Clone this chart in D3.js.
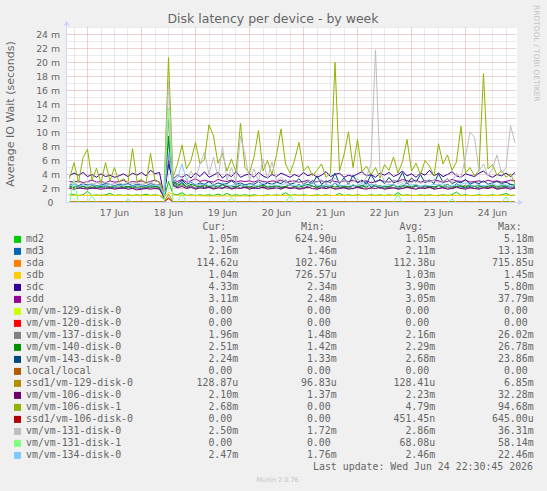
<!DOCTYPE html>
<html>
<head>
<meta charset="utf-8">
<script src="https://cdn.jsdelivr.net/npm/d3@7"></script>
<style>
  body { margin: 0; background: #f0f0f0; }
  svg { display: block; }
  text { font-family: "DejaVu Sans", sans-serif; fill: #666666; }
  .mono { font-family: "DejaVu Sans Mono", monospace; font-size: 9.9px; white-space: pre; }
</style>
</head>
<body>
<script>
// Legend names and munin colours, in drawing order
var names = ["md2", "md3", "sda", "sdb", "sdc", "sdd", "vm/vm-129-disk-0", "vm/vm-120-disk-0",
    "vm/vm-137-disk-0", "vm/vm-140-disk-0", "vm/vm-143-disk-0", "local/local", "ssd1/vm-129-disk-0",
    "vm/vm-106-disk-0", "vm/vm-106-disk-1", "ssd1/vm-106-disk-0", "vm/vm-131-disk-0", "vm/vm-131-disk-1",
    "vm/vm-134-disk-0"];
var colors = ["#00cc00", "#0066b3", "#ff8000", "#ffcc00", "#330099", "#990099", "#ccff00", "#ff0000",
    "#808080", "#008f00", "#00487d", "#b35a00", "#b38f00", "#6b006b", "#8fb300", "#b30000", "#bebebe",
    "#80ff80", "#80c9ff"];

// Legend columns
var cur = ["1.05m", "2.16m", "114.62u", "1.04m", "4.33m", "3.11m", "0.00", "0.00", "1.96m", "2.51m", "2.24m",
    "0.00", "128.87u", "2.10m", "2.68m", "0.00", "2.50m", "0.00", "2.47m"];
var min = ["624.90u", "1.46m", "102.76u", "726.57u", "2.34m", "2.48m", "0.00", "0.00", "1.48m", "1.42m", "1.33m",
    "0.00", "96.83u", "1.37m", "0.00", "0.00", "1.72m", "0.00", "1.76m"];
var avg = ["1.05m", "2.11m", "112.38u", "1.03m", "3.90m", "3.05m", "0.00", "0.00", "2.16m", "2.29m", "2.68m",
    "0.00", "128.41u", "2.23m", "4.79m", "451.45n", "2.86m", "68.08u", "2.46m"];
var max = ["5.18m", "13.13m", "715.85u", "1.45m", "5.80m", "37.79m", "0.00", "0.00", "26.02m", "26.78m", "23.86m",
    "0.00", "6.85m", "32.28m", "94.68m", "645.00u", "36.31m", "58.14m", "22.46m"];

// Samples every 2 hours, 16 Jun 16:00 .. 24 Jun 22:00 (values in milliseconds)
var sampleTimes = d3.timeHour.every(2).range(new Date(2026, 5, 16, 16), new Date(2026, 5, 24, 23));

var md2 = [1.2,1.1,1.0,1.1,1.6,1.0,1.1,1.0,1.1,1.3, 1.0,1.1,1.0,1.1,1.0,1.1,1.0,1.2,1.0,1.1,
    1.0,0.5,3.0,1.2,1.1,1.4,1.0,1.1,1.0,1.1, 1.0,1.1,1.0,1.2,1.0,1.3,1.0,1.1,1.0,1.1,
    1.0,1.1,1.0,1.0,1.1,1.0,1.1,1.0,1.4,1.0, 1.1,1.0,1.1,1.0,1.0,1.1,1.0,1.1,1.0,1.0,
    1.3,1.0,1.1,1.0,1.1,1.0,1.0,1.1,1.0,1.1, 1.0,1.1,1.0,1.4,1.0,1.1,1.0,1.0,1.1,1.0,
    1.1,1.0,1.0,1.1,1.0,1.1,1.5,1.0,1.1,1.0, 1.0,1.1,1.0,1.0,1.1,1.0,1.1,1.3,1.0,1.05];
var md3 = [2.1,2.2,2.0,2.3,2.1,2.0,2.2,2.1,2.3,2.0, 2.2,2.1,2.0,2.2,2.3,2.1,2.0,2.2,2.1,2.3,
    2.1,0.9,9.0,2.6,2.2,3.0,2.1,2.4,2.0,2.3, 2.1,2.2,2.0,2.4,2.1,2.3,2.0,2.2,2.5,2.1,
    2.2,2.0,2.3,2.1,2.2,2.0,2.4,2.1,2.3,2.0, 2.2,2.6,2.1,2.3,3.2,2.1,2.4,2.0,2.2,2.8,
    2.1,2.3,2.0,2.5,2.2,2.1,3.0,2.2,2.4,2.0, 2.3,2.1,2.6,2.0,2.2,2.9,2.1,2.3,2.0,2.4,
    2.2,2.0,2.5,2.1,2.3,2.0,2.7,2.2,2.1,2.3, 2.0,2.2,2.4,2.1,2.3,2.0,2.2,2.4,2.1,2.2];
var sda = [0.11,0.11,0.11,0.11,0.11,0.11,0.11,0.11,0.11,0.11, 0.11,0.11,0.11,0.11,0.11,0.11,0.11,0.11,0.11,0.11,
    0.11,0.10,0.70,0.12,0.11,0.11,0.11,0.11,0.11,0.11, 0.11,0.11,0.11,0.11,0.11,0.11,0.11,0.11,0.11,0.11,
    0.11,0.11,0.11,0.11,0.11,0.11,0.11,0.11,0.11,0.11, 0.11,0.11,0.11,0.11,0.11,0.11,0.11,0.11,0.11,0.11,
    0.11,0.11,0.11,0.11,0.11,0.11,0.11,0.11,0.11,0.11, 0.11,0.11,0.11,0.11,0.11,0.11,0.11,0.11,0.11,0.11,
    0.11,0.11,0.11,0.11,0.11,0.11,0.11,0.11,0.11,0.11, 0.11,0.11,0.11,0.11,0.11,0.11,0.11,0.11,0.11,0.11];
var sdb = [1.05,1.0,1.05,1.0,1.05,1.0,1.0,1.05,1.0,1.05, 1.0,1.05,1.0,1.0,1.05,1.0,1.05,1.0,1.0,1.05,
    1.0,0.8,1.45,1.1,1.0,1.05,1.0,0.95,1.0,0.95, 0.95,0.9,0.95,0.9,0.95,0.9,0.95,0.9,0.95,0.95,
    0.9,0.95,1.0,0.95,1.0,1.0,1.05,1.0,1.0,1.05, 1.0,1.05,1.0,1.0,1.05,1.0,1.0,1.05,1.0,1.0,
    1.05,1.0,1.0,1.05,1.0,1.05,1.0,1.0,1.05,1.0, 1.0,1.05,1.0,1.0,1.05,1.0,1.05,1.0,1.0,1.05,
    1.0,1.0,1.05,1.0,1.05,1.0,1.0,1.05,1.0,1.0, 1.05,1.0,1.0,1.05,1.0,1.0,1.05,1.0,1.05,1.04];
var sdc = [3.8,4.2,3.9,4.3,3.7,4.0,3.6,4.1,3.7,3.9, 3.6,3.8,4.1,3.7,4.2,3.9,4.3,3.8,4.6,4.1,
    4.3,1.0,5.5,3.4,3.9,3.6,4.0,3.5,4.2,3.7, 4.4,3.6,3.9,4.3,3.5,4.0,3.7,4.4,3.6,3.9,
    4.1,3.6,4.3,3.8,3.5,4.0,3.7,4.2,3.9,3.6, 4.0,3.7,4.3,3.8,4.1,3.6,3.9,4.4,3.7,4.0,
    4.2,3.6,3.9,3.7,4.1,4.4,3.8,4.0,3.6,4.2, 3.9,4.3,3.7,4.0,4.5,3.8,4.1,3.6,4.2,3.9,
    4.6,3.8,4.2,3.7,4.0,4.4,3.8,3.6,4.1,3.9, 3.7,4.2,4.5,3.9,3.6,4.0,3.8,4.2,3.7,4.3];
var sdd = [3.0,2.9,3.1,2.8,3.0,3.2,2.9,3.0,2.8,3.1, 2.9,3.0,3.2,2.8,3.0,2.9,3.1,2.8,3.0,3.2,
    2.9,1.2,6.0,3.2,3.0,3.3,2.9,3.1,3.4,3.0, 3.2,3.0,2.9,3.3,3.1,3.0,3.2,2.9,3.1,3.0,
    3.1,2.9,3.2,3.0,2.9,3.1,3.0,3.2,2.9,3.0, 3.1,2.9,3.0,3.2,2.8,3.0,3.1,2.9,3.2,3.0,
    2.9,3.1,3.0,3.2,2.9,3.0,3.1,2.8,3.0,3.2, 3.0,2.9,3.1,3.0,3.3,3.1,3.0,3.2,2.9,3.1,
    3.0,3.2,3.1,2.9,3.0,3.3,3.1,3.0,3.2,2.9, 3.0,3.1,2.9,3.2,3.0,3.1,2.9,3.0,3.2,3.1];
var vm129 = [0,0,0,0,0,0,0,0,0,0, 0,0,0,0,0,0,0,0,0,0, 0,0,0,0,0,0,0,0,0,0, 0,0,0,0,0,0,0,0,0,0,
    0,0,0,0,0,0,0,0,0,0, 0,0,0,0,0,0,0,0,0,0, 0,0,0,0,0,0,0,0,0,0, 0,0,0,0,0,0,0,0,0,0,
    0,0,0,0,0,0,0,0,0,0, 0,0,0,0,0,0,0,0,0,0];
var vm120 = [0,0,0,0,0,0,0,0,0,0, 0,0,0,0,0,0,0,0,0,0, 0,0,0,0,0,0,0,0,0,0, 0,0,0,0,0,0,0,0,0,0,
    0,0,0,0,0,0,0,0,0,0, 0,0,0,0,0,0,0,0,0,0, 0,0,0,0,0,0,0,0,0,0, 0,0,0,0,0,0,0,0,0,0,
    0,0,0,0,0,0,0,0,0,0, 0,0,0,0,0,0,0,0,0,0];
var vm137 = [2.2,2.1,2.3,2.0,2.2,2.1,2.0,2.3,2.1,2.2, 2.0,2.2,2.1,2.3,2.0,2.1,2.2,2.0,2.3,2.1,
    2.0,0.8,12.0,2.8,2.3,2.5,2.2,2.4,2.1,2.6, 2.2,2.4,2.1,2.3,2.5,2.0,2.2,2.4,2.1,2.3,
    2.1,2.2,2.0,2.3,2.1,2.2,2.4,2.0,2.2,2.1, 2.3,2.0,2.2,2.1,2.4,2.0,2.2,2.3,2.1,2.0,
    2.2,2.1,2.3,2.0,2.2,2.4,2.1,2.0,2.6,2.2, 2.0,2.2,2.1,2.3,2.0,2.2,2.1,2.4,2.0,2.2,
    2.1,2.3,2.0,2.2,2.1,2.0,2.3,2.2,2.5,2.1, 2.3,2.0,2.2,2.1,2.4,2.0,2.2,2.1,2.3,2.0];
var vm140 = [2.3,2.2,2.4,2.3,2.1,2.4,2.2,2.3,2.5,2.2, 2.3,2.4,2.2,2.3,2.1,2.4,2.3,2.2,2.4,2.3,
    2.2,0.9,9.5,2.9,2.5,2.7,2.3,2.6,2.4,2.2, 2.5,2.3,2.4,2.2,2.6,2.3,2.4,2.2,2.5,2.3,
    2.2,2.4,2.3,2.5,2.2,2.3,2.4,2.2,2.3,2.5, 2.3,2.2,2.4,2.6,2.3,2.2,2.5,2.3,2.4,2.2,
    2.4,2.3,2.2,2.5,2.3,2.4,2.2,2.6,2.3,2.4, 2.2,2.3,2.5,2.2,2.4,2.3,2.2,2.5,2.3,2.4,
    2.3,2.2,2.4,2.3,2.6,2.2,2.3,2.4,2.2,2.5, 2.3,2.4,2.2,2.3,2.5,2.2,2.4,2.3,2.6,2.5];
var vm143 = [2.5,2.6,2.4,2.7,2.5,2.6,2.4,2.5,2.7,2.6, 2.4,2.6,2.5,2.7,2.4,2.6,2.5,2.4,2.7,2.5,
    2.6,1.0,5.5,3.0,2.7,3.2,2.6,2.9,2.5,2.8, 2.6,3.0,2.5,2.8,2.6,2.7,3.1,2.6,2.8,2.5,
    2.7,2.6,3.0,2.5,2.8,2.6,2.9,2.7,3.2,2.6, 2.8,3.4,2.6,3.0,2.7,3.8,2.6,3.1,2.8,4.2,
    2.7,3.5,2.6,3.9,2.8,3.2,2.6,4.0,2.9,3.3, 2.7,3.6,2.8,3.1,4.3,2.7,3.5,2.9,4.0,2.8,
    3.2,2.7,4.1,2.9,3.4,2.7,3.0,2.8,3.3,2.6, 2.9,2.7,3.1,2.6,2.8,3.0,2.7,2.9,2.6,2.2];
var local = [0,0,0,0,0,0,0,0,0,0, 0,0,0,0,0,0,0,0,0,0, 0,0,0,0,0,0,0,0,0,0, 0,0,0,0,0,0,0,0,0,0,
    0,0,0,0,0,0,0,0,0,0, 0,0,0,0,0,0,0,0,0,0, 0,0,0,0,0,0,0,0,0,0, 0,0,0,0,0,0,0,0,0,0,
    0,0,0,0,0,0,0,0,0,0, 0,0,0,0,0,0,0,0,0,0];
var ssd129 = [0.13,0.13,0.13,0.13,0.13,0.13,0.13,0.13,0.13,0.13, 0.13,0.13,0.13,0.13,0.13,0.13,0.13,0.13,0.13,0.13,
    0.13,0.12,1.2,0.14,0.13,0.13,0.13,0.13,0.13,0.13, 0.13,0.13,0.13,0.13,0.13,0.13,0.13,0.13,0.13,0.13,
    0.13,0.13,0.13,0.13,0.13,0.13,0.13,0.13,0.13,0.13, 0.13,0.13,0.13,0.13,0.13,0.13,0.13,0.13,0.13,0.13,
    0.13,0.13,0.13,0.13,0.13,0.13,0.13,0.13,0.13,0.13, 0.13,0.13,0.13,0.13,0.13,0.13,0.13,0.13,0.13,0.13,
    0.13,0.13,0.13,0.13,0.13,0.13,0.13,0.13,0.13,0.13, 0.13,0.13,0.13,0.13,0.13,0.13,0.13,0.13,0.13,0.13];
var vm106d0 = [2.0,1.9,2.1,2.0,1.9,2.1,2.0,1.9,2.0,2.1, 1.9,2.0,2.1,1.9,2.0,1.8,1.9,2.0,1.9,2.0,
    1.9,0.7,7.0,2.4,2.1,2.3,2.0,2.2,1.9,2.1, 2.0,2.2,1.9,2.1,2.0,2.3,1.9,2.1,2.0,2.2,
    1.9,2.1,2.0,2.2,1.9,2.0,2.1,1.9,2.2,2.0, 2.1,1.9,2.0,2.2,2.0,1.9,2.1,2.0,2.2,1.9,
    2.0,2.1,1.9,2.0,2.2,2.0,1.9,2.1,2.0,2.2, 1.9,2.0,2.1,1.9,2.0,2.2,2.0,1.9,2.1,2.0,
    2.2,1.9,2.0,2.1,1.9,2.0,2.2,2.0,1.9,2.1, 2.0,1.9,2.1,2.0,2.2,1.9,2.0,2.1,1.9,2.1];
var vm106d1 = [3.4,5.7,2.9,6.4,7.6,3.2,4.9,2.8,5.7,3.1, 5.0,2.9,3.4,2.8,7.7,3.0,3.3,2.7,7.0,3.1,
    2.9,1.5,20.7,3.6,5.5,8.2,4.8,6.0,8.6,5.5, 6.2,11.1,9.5,5.6,7.0,4.5,6.2,4.3,11.3,5.0,
    4.2,6.5,10.3,4.5,6.0,4.0,6.8,10.5,5.5,4.2, 6.0,8.6,4.5,5.2,3.8,4.6,5.5,3.6,4.2,20.0,
    4.5,6.8,10.1,5.0,9.0,4.4,5.2,4.0,5.0,3.5, 5.4,4.6,6.5,4.2,5.8,9.0,4.5,5.6,4.0,6.0,
    5.2,3.8,8.4,5.5,6.8,4.6,5.8,10.9,4.2,5.0, 3.8,4.6,18.4,4.8,5.4,3.9,4.6,3.6,4.1,2.7];
var ssd106 = [0,0,0,0,0,0,0,0,0,0, 0,0,0,0,0,0,0,0,0,0, 0,0,0.6,0,0,0,0,0,0,0, 0,0,0,0,0,0,0,0,0,0,
    0,0,0,0,0,0,0,0,0,0, 0,0,0,0,0,0,0,0,0,0, 0,0,0,0,0,0,0,0,0,0, 0,0,0,0,0,0,0,0,0,0,
    0,0,0,0,0,0,0,0,0,0, 0,0,0,0,0,0,0,0,0,0];
var vm131d0 = [2.8,2.6,2.9,2.7,3.0,2.6,2.8,2.7,2.9,2.6, 2.7,2.8,2.6,2.9,2.7,2.8,2.6,2.7,2.9,2.6,
    2.5,1.2,17.3,3.2,4.0,3.5,3.0,4.5,3.2,5.5, 7.2,4.0,6.5,3.5,8.0,3.2,5.0,3.0,9.5,6.8,
    3.2,4.8,3.0,6.2,3.4,5.8,3.0,3.6,2.9,3.2, 2.8,3.0,2.7,3.1,2.8,2.9,3.3,2.7,3.0,3.5,
    2.9,3.2,2.8,3.0,3.4,2.8,3.6,5.5,21.8,4.5, 3.0,2.8,3.2,2.7,3.0,2.9,2.8,3.1,2.7,3.0,
    2.9,3.2,2.8,3.0,3.4,2.9,4.2,3.5,6.5,10.1, 9.3,4.5,5.5,3.8,4.8,6.8,4.2,5.0,11.0,8.5];
var vm131d1 = [0,3.3,0,0,0,1.0,0,0,0,0, 0,0,0,0.5,0,0,0,0,0,0, 0,0,13.5,0,0,1.4,0,0,0,0, 0,0,0,0,0,0,0.8,0,0,0,
    0,0,0,0,0,0,0,0,0,1.0, 0,0,0,0,0,0,0,0,0,0, 0,0,0,0,0,0,0,0,0,0, 0,0,0,1.2,0,0,0,0,0,0,
    0,0,0,0,0,0.5,0,0,0,0, 0,0,0,0,0,0,0,0.8,0,0];
var vm134 = [2.4,2.6,2.3,2.5,2.4,2.7,2.3,2.5,2.4,2.6, 2.3,2.5,2.4,2.6,2.3,2.5,2.4,2.3,2.6,2.4,
    2.5,1.0,7.1,3.0,3.5,5.5,3.2,2.8,2.6,2.5, 2.7,2.4,2.6,2.3,2.8,2.5,2.4,2.7,2.5,2.3,
    2.6,2.4,2.5,2.8,2.3,2.6,2.4,2.5,2.7,2.4, 2.5,2.3,2.6,2.4,2.7,2.5,2.3,2.6,2.4,2.8,
    2.5,2.4,2.6,2.3,2.5,2.7,2.4,2.6,2.5,2.3, 2.4,2.6,2.5,2.3,2.7,2.4,2.5,2.6,2.3,2.5,
    2.4,2.6,2.5,2.7,2.3,2.5,2.4,2.6,2.8,2.5, 2.4,2.6,2.3,2.5,2.7,2.4,2.6,2.5,2.3,2.5];

var seriesValues = [md2, md3, sda, sdb, sdc, sdd, vm129, vm120, vm137, vm140, vm143, local, ssd129,
    vm106d0, vm106d1, ssd106, vm131d0, vm131d1, vm134];

// Axis tick labels
var yTickValues = [0, 2, 4, 6, 8, 10, 12, 14, 16, 18, 20, 22, 24];
var dayLabels = ["17 Jun", "18 Jun", "19 Jun", "20 Jun", "21 Jun", "22 Jun", "23 Jun", "24 Jun"];

var width = 547;
var height = 491;

var start = new Date(2026, 5, 16, 14, 40);
var end = new Date(2026, 5, 24, 22, 40);

var x = d3.scaleTime().domain([start, end]).range([66.5, 516.5]);
var y = d3.scaleLinear().domain([0, 25]).range([202.5, 27.5]);

var svg = d3.select("body").append("svg")
    .attr("width", width)
    .attr("height", height);

svg.append("rect")
    .attr("width", width).attr("height", height)
    .attr("fill", "#f0f0f0");

// Canvas
svg.append("rect")
    .attr("x", 67).attr("y", 27)
    .attr("width", 450).attr("height", 176)
    .attr("fill", "#ffffff");

svg.append("clipPath").attr("id", "clip")
    .append("rect")
    .attr("x", 66).attr("y", 27)
    .attr("width", 451).attr("height", 177);

// Grid: minor lines first, then the major ones
var grid = svg.append("g").attr("stroke-width", 1).attr("stroke-dasharray", "1,1");

var hours = d3.timeHour.every(6).range(start, end);
grid.selectAll(".vminor")
    .data(hours.filter(function(d) { return d.getHours() != 0; }))
    .enter().append("line")
    .attr("x1", function(d) { return Math.floor(x(d)) + 0.5; })
    .attr("x2", function(d) { return Math.floor(x(d)) + 0.5; })
    .attr("y1", 27.5).attr("y2", 202.5)
    .attr("stroke", "#d6d6d6");

grid.selectAll(".hminor")
    .data(d3.range(1, 26, 2))
    .enter().append("line")
    .attr("x1", 66.5).attr("x2", 516.5)
    .attr("y1", function(d) { return y(d); })
    .attr("y2", function(d) { return y(d); })
    .attr("stroke", "#d6d6d6");

grid.selectAll(".vmajor")
    .data(hours.filter(function(d) { return d.getHours() == 0; }))
    .enter().append("line")
    .attr("x1", function(d) { return Math.floor(x(d)) + 0.5; })
    .attr("x2", function(d) { return Math.floor(x(d)) + 0.5; })
    .attr("y1", 27.5).attr("y2", 202.5)
    .attr("stroke", "#dba4a4");

grid.selectAll(".hmajor")
    .data(yTickValues.filter(function(d) { return d > 0; }))
    .enter().append("line")
    .attr("x1", 66.5).attr("x2", 516.5)
    .attr("y1", function(d) { return y(d); })
    .attr("y2", function(d) { return y(d); })
    .attr("stroke", "#dba4a4");

// Series lines, in rrdtool drawing order
var line = d3.line()
    .x(function(d, i) { return x(sampleTimes[i]); })
    .y(function(d) { return y(d); });

svg.append("g")
    .attr("clip-path", "url(#clip)")
    .selectAll("path")
    .data(seriesValues)
    .enter().append("path")
    .attr("d", line)
    .attr("fill", "none")
    .attr("stroke", function(d, i) { return colors[i]; })
    .attr("stroke-width", 1);

// Axes with arrows
var axisColor = "#cfd6f8";
svg.append("line")
    .attr("x1", 66.5).attr("x2", 66.5).attr("y1", 203).attr("y2", 23)
    .attr("stroke", axisColor);
svg.append("path")
    .attr("d", "M63.5,25.5L69.5,25.5L66.5,20.5Z")
    .attr("fill", axisColor);
svg.append("line")
    .attr("x1", 66).attr("x2", 519).attr("y1", 202.5).attr("y2", 202.5)
    .attr("stroke", axisColor);
svg.append("path")
    .attr("d", "M518,199.5L518,205.5L523.5,202.5Z")
    .attr("fill", axisColor);

// Y tick labels
svg.selectAll(".ylabel")
    .data(yTickValues)
    .enter().append("text")
    .attr("x", function(d) { return d == 0 ? 53.5 : 60; })
    .attr("y", function(d) { return y(d) + 3.4; })
    .attr("text-anchor", "end")
    .style("font-size", "9.3px")
    .text(function(d) { return d == 0 ? "0" : d + " m"; });

// X tick labels at noon of each day
svg.selectAll(".xlabel")
    .data(dayLabels)
    .enter().append("text")
    .attr("x", function(d, i) { return x(new Date(2026, 5, 17 + i, 12)); })
    .attr("y", 215.5)
    .attr("text-anchor", "middle")
    .style("font-size", "9.3px")
    .text(function(d) { return d; });

// Title and axis label
svg.append("text")
    .attr("x", 273).attr("y", 23)
    .attr("text-anchor", "middle")
    .style("font-size", "12.5px")
    .text("Disk latency per device - by week");

svg.append("text")
    .attr("transform", "translate(14,114) rotate(-90)")
    .attr("text-anchor", "middle")
    .style("font-size", "11px")
    .text("Average IO Wait (seconds)");

svg.append("text")
    .attr("transform", "translate(534,5) rotate(90)")
    .style("font-size", "7.5px")
    .style("fill", "#c4c4c4")
    .text("RRDTOOL / TOBI OETIKER");

// Legend
function field(s) {
    var unit = /[a-z]$/.test(s) ? s.slice(-1) : " ";
    var num = unit == " " ? s : s.slice(0, -1);
    return num.padStart(6, " ") + unit;
}

var colX = [196.5, 295, 393.5, 492];
var headers = [" Cur:", " Min:", " Avg:", " Max:"];

headers.forEach(function(h, j) {
    svg.append("text").attr("class", "mono")
        .attr("x", colX[j]).attr("y", 230.4)
        .text(h);
});

var rows = svg.selectAll(".row")
    .data(names)
    .enter().append("g")
    .attr("transform", function(d, i) { return "translate(0," + (242.4 + i * 12) + ")"; });

rows.append("rect")
    .attr("x", 14).attr("y", -6.5)
    .attr("width", 7).attr("height", 7)
    .attr("fill", function(d, i) { return colors[i]; });

rows.append("text").attr("class", "mono")
    .attr("x", 26)
    .text(function(d) { return d; });

[cur, min, avg, max].forEach(function(col, j) {
    rows.append("text").attr("class", "mono")
        .attr("x", colX[j])
        .text(function(d, i) { return field(col[i]); });
});

svg.append("text").attr("class", "mono")
    .attr("x", 533).attr("y", 470.4)
    .attr("text-anchor", "end")
    .text("Last update: Wed Jun 24 22:30:45 2026");

svg.append("text")
    .attr("x", 277.5).attr("y", 482)
    .attr("text-anchor", "middle")
    .style("font-size", "6.5px")
    .style("fill", "#c4c4c4")
    .text("Munin 2.0.76");
</script>
</body>
</html>
